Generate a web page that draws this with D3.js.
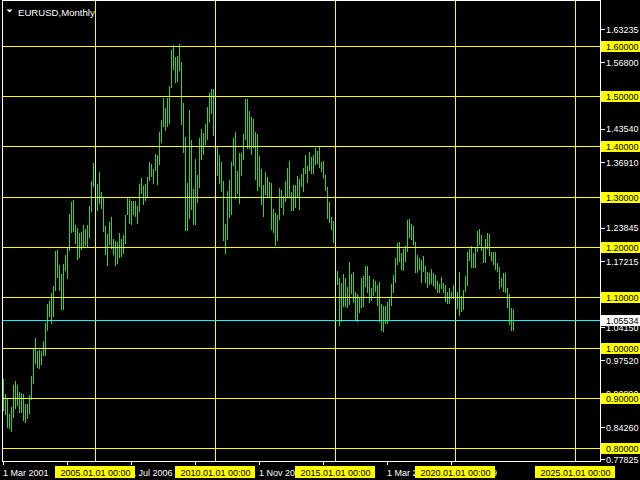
<!DOCTYPE html>
<html><head><meta charset="utf-8">
<script src="https://cdn.jsdelivr.net/npm/d3@7"></script>
<style>html,body{margin:0;padding:0;background:#000;overflow:hidden}svg{display:block}</style>
</head><body>
<svg id="c" width="640" height="480"></svg>
<script>
// ---------- data ----------
const symbolTitle = "EURUSD,Monthly";
const firstMonth = [2001, 3]; // first bar: March 2001, one bar per month
const high = [
  // 2001 (Mar-Dec)
  0.9375,0.9080,0.8990,0.8680,0.8830,0.9250,0.9330,0.9250,0.9115,0.9090,
  // 2002
  0.9075,0.8880,0.8880,0.9055,0.9430,0.9985,1.0190,0.9925,0.9945,0.9935,1.0140,1.0500,
  // 2003
  1.0860,1.0930,1.1080,1.1230,1.1930,1.1935,1.1640,1.1470,1.1670,1.1840,1.2000,1.2650,
  // 2004
  1.2900,1.2930,1.2430,1.2380,1.2280,1.2290,1.2440,1.2350,1.2440,1.2810,1.3320,1.3670,
  // 2005
  1.3590,1.3250,1.3490,1.3100,1.2990,1.2410,1.2260,1.2490,1.2590,1.2160,1.2120,1.2090,
  // 2006
  1.2280,1.2160,1.2230,1.2630,1.2980,1.2950,1.2910,1.2910,1.2910,1.2810,1.3250,1.3370,
  // 2007
  1.3210,1.3250,1.3390,1.3680,1.3650,1.3550,1.3850,1.3830,1.4280,1.4530,1.4970,1.4770,
  // 2008
  1.4970,1.5200,1.5910,1.6020,1.5780,1.5790,1.6040,1.5680,1.4870,1.4190,1.3280,1.4720,
  // 2009
  1.4130,1.3160,1.3740,1.3430,1.4160,1.4340,1.4260,1.4450,1.4790,1.5060,1.5140,1.5140,
  // 2010
  1.4580,1.3980,1.3820,1.3690,1.3310,1.2450,1.3110,1.3330,1.3680,1.4160,1.4280,1.3500,
  // 2011
  1.3860,1.3860,1.4250,1.4940,1.4940,1.4700,1.4580,1.4550,1.4280,1.4250,1.3810,1.3550,
  // 2012
  1.3240,1.3490,1.3390,1.3300,1.3280,1.2750,1.2670,1.2640,1.3170,1.3140,1.3010,1.3310,
  // 2013
  1.3560,1.3710,1.3100,1.3240,1.3240,1.3420,1.3350,1.3450,1.3570,1.3830,1.3610,1.3890,
  // 2014
  1.3790,1.3830,1.3970,1.3910,1.3990,1.3680,1.3700,1.3440,1.3200,1.2890,1.2600,1.2510,
  // 2015
  1.2110,1.1530,1.1390,1.1290,1.1470,1.1380,1.1210,1.1710,1.1460,1.1500,1.1100,1.1060,
  // 2016
  1.0990,1.1380,1.1420,1.1620,1.1620,1.1430,1.1190,1.1370,1.1330,1.1240,1.1300,1.0870,
  // 2017
  1.0830,1.0830,1.0910,1.0960,1.1270,1.1450,1.1780,1.2070,1.2090,1.1880,1.1960,1.2020,
  // 2018
  1.2540,1.2560,1.2450,1.2410,1.2100,1.1850,1.1790,1.1740,1.1820,1.1620,1.1500,1.1490,
  // 2019
  1.1570,1.1490,1.1450,1.1320,1.1260,1.1410,1.1290,1.1250,1.1110,1.1180,1.1100,1.1240,
  // 2020
  1.1240,1.1100,1.1500,1.1020,1.1150,1.1420,1.1910,1.1970,1.2010,1.1880,1.2000,1.2310,
  // 2021
  1.2350,1.2240,1.1990,1.2150,1.2270,1.2250,1.1910,1.1900,1.1910,1.1690,1.1610,1.1380,
  // 2022 (Jan-Jun)
  1.1480,1.1490,1.1190,1.1070,1.0790,1.0770
];
const low = [
  // 2001 (Mar-Dec)
  0.8755,0.8680,0.8420,0.8400,0.8340,0.8615,0.8800,0.8860,0.8720,0.8720,
  // 2002
  0.8560,0.8520,0.8600,0.8700,0.8975,0.9300,0.9690,0.9610,0.9600,0.9670,0.9860,0.9860,
  // 2003
  1.0350,1.0630,1.0500,1.0620,1.1150,1.1410,1.1140,1.0770,1.0760,1.1540,1.1380,1.1950,
  // 2004
  1.2300,1.2310,1.2080,1.1760,1.1800,1.1960,1.2010,1.2040,1.2010,1.2200,1.2720,1.3210,
  // 2005
  1.2930,1.2730,1.2880,1.2770,1.2310,1.1870,1.1640,1.2050,1.1990,1.1870,1.1640,1.1690,
  // 2006
  1.1810,1.1820,1.1880,1.2070,1.2660,1.2480,1.2460,1.2660,1.2620,1.2480,1.2720,1.3070,
  // 2007
  1.2860,1.2930,1.3000,1.3330,1.3410,1.3270,1.3520,1.3260,1.3640,1.4080,1.4410,1.4320,
  // 2008
  1.4400,1.4470,1.5170,1.5530,1.5280,1.5300,1.5520,1.4450,1.3880,1.2330,1.2330,1.2570,
  // 2009
  1.2750,1.2450,1.2460,1.2890,1.3190,1.3750,1.3840,1.4050,1.4150,1.4480,1.4670,1.4220,
  // 2010
  1.3860,1.3440,1.3270,1.3110,1.2140,1.1880,1.2150,1.2590,1.2660,1.3630,1.2970,1.3070,
  // 2011
  1.2870,1.3430,1.3750,1.4140,1.3970,1.3970,1.3840,1.3980,1.3360,1.3140,1.3220,1.2860,
  // 2012
  1.2620,1.3060,1.3000,1.3000,1.2350,1.2290,1.2040,1.2130,1.2560,1.2800,1.2660,1.2920,
  // 2013
  1.3000,1.3020,1.2740,1.2740,1.2790,1.3000,1.2750,1.3210,1.3110,1.3480,1.3300,1.3530,
  // 2014
  1.3480,1.3480,1.3640,1.3670,1.3580,1.3500,1.3370,1.3140,1.2570,1.2500,1.2360,1.2100,
  // 2015
  1.1100,1.1260,1.0460,1.0520,1.0820,1.0820,1.0810,1.0860,1.1080,1.0900,1.0560,1.0520,
  // 2016
  1.0710,1.0810,1.0820,1.1220,1.1100,1.0910,1.0950,1.1040,1.1120,1.0850,1.0520,1.0350,
  // 2017
  1.0340,1.0490,1.0490,1.0570,1.0840,1.1110,1.1310,1.1660,1.1720,1.1570,1.1550,1.1720,
  // 2018
  1.1920,1.2200,1.2150,1.2060,1.1510,1.1510,1.1570,1.1300,1.1520,1.1300,1.1210,1.1270,
  // 2019
  1.1290,1.1240,1.1180,1.1110,1.1110,1.1180,1.1100,1.0930,1.0880,1.0880,1.0980,1.0980,
  // 2020
  1.0990,1.0780,1.0640,1.0730,1.0770,1.1120,1.1250,1.1750,1.1610,1.1610,1.1600,1.1920,
  // 2021
  1.2050,1.1950,1.1700,1.1700,1.1990,1.1850,1.1750,1.1660,1.1560,1.1520,1.1190,1.1220,
  // 2022 (Jan-Jun)
  1.1120,1.1100,1.0800,1.0470,1.0350,1.0360
];
const levelPrices = [1.6, 1.5, 1.4, 1.3, 1.2, 1.1, 1.0, 0.9, 0.8];
const priceTicks = [1.63235, 1.56800, 1.43540, 1.36910, 1.23845, 1.17215, 1.04150, 0.97520, 0.90890, 0.84260, 0.77825];
const currentPrice = 1.05534;
const gridYears = [2005, 2010, 2015, 2020, 2025];
const gridLabels = ["2005.01.01 00:00", "2010.01.01 00:00", "2015.01.01 00:00", "2020.01.01 00:00", "2025.01.01 00:00"];
const timeTickMonths = [[2001,3],[2003,11],[2006,7],[2009,3],[2011,11],[2014,7],[2017,3],[2019,11]];
const timeTickLabels = ["1 Mar 2001","1 Nov 2003","1 Jul 2006","1 Mar 2009","1 Nov 2011","1 Jul 2014","1 Mar 2017","1 Nov 2019"];

// ---------- layout ----------
const FONT = "'Liberation Sans', Arial, sans-serif";
const plotLeft = 2, plotRight = 600, plotTop = 0, plotBottom = 461;
const monthIndex = (y, m) => (y - 2005) * 12 + (m - 1);
const x = d3.scaleLinear().domain([0, 240]).range([95, 575]);       // month index -> pixel column
const y = d3.scaleLinear().domain([0.9, 1.5]).range([398, 96]);     // price -> pixel row
const py = p => Math.round(y(p)) + 0.5;

const svg = d3.select("#c");
svg.append("rect").attr("width", 640).attr("height", 480).attr("fill", "#000");

// bars (high-low lines)
const first = monthIndex(firstMonth[0], firstMonth[1]);
const bars = high.map((h, i) => ({ m: first + i, h, l: low[i] }));
svg.append("g").attr("shape-rendering", "crispEdges")
  .selectAll("rect").data(bars).join("rect")
  .attr("x", d => Math.round(x(d.m)))
  .attr("width", 1)
  .attr("y", d => Math.round(y(d.h)))
  .attr("height", d => Math.max(1, Math.round(y(d.l)) - Math.round(y(d.h)) + 1))
  .attr("fill", "#2fd62f");

// level lines (yellow)
const grid = svg.append("g").attr("shape-rendering", "crispEdges");
grid.selectAll("line.h").data(levelPrices).join("line").attr("class", "h")
  .attr("x1", plotLeft).attr("x2", plotRight)
  .attr("y1", d => py(d)).attr("y2", d => py(d))
  .attr("stroke", "#ffff00").attr("stroke-width", 1);
grid.selectAll("line.v").data(gridYears).join("line").attr("class", "v")
  .attr("x1", d => Math.round(x(monthIndex(d, 1))) + 0.5).attr("x2", d => Math.round(x(monthIndex(d, 1))) + 0.5)
  .attr("y1", plotTop).attr("y2", plotBottom)
  .attr("stroke", "#ffff00").attr("stroke-width", 1);
// current price line (cyan)
grid.append("line").attr("x1", plotLeft).attr("x2", plotRight)
  .attr("y1", py(currentPrice)).attr("y2", py(currentPrice))
  .attr("stroke", "#00ffff").attr("stroke-width", 1);

// frame
const frame = svg.append("g").attr("shape-rendering", "crispEdges").attr("stroke", "#fff");
frame.append("line").attr("x1", plotLeft).attr("x2", plotRight + 1).attr("y1", 0.5).attr("y2", 0.5);
frame.append("line").attr("x1", plotLeft + 0.5).attr("x2", plotLeft + 0.5).attr("y1", 0).attr("y2", plotBottom + 1);
frame.append("line").attr("x1", plotRight + 0.5).attr("x2", plotRight + 0.5).attr("y1", 0).attr("y2", plotBottom + 1);
frame.append("line").attr("x1", plotLeft).attr("x2", plotRight + 1).attr("y1", plotBottom + 0.5).attr("y2", plotBottom + 0.5);

// right price axis (white labels)
const yAxis = d3.axisRight(y).tickValues(priceTicks).tickSize(4).tickPadding(1)
  .tickFormat(d3.format(".5f"));
const ya = svg.append("g").attr("transform", `translate(${plotRight + 1},0)`).call(yAxis);
ya.select(".domain").remove();
ya.selectAll(".tick line").attr("stroke", "#fff").attr("shape-rendering", "crispEdges");
ya.selectAll(".tick text").attr("fill", "#fff").attr("font-family", FONT).attr("font-size", 9)
  .attr("dy", null).attr("y", 3.3);

// yellow level labels
const lv = svg.append("g");
lv.selectAll("rect").data(levelPrices).join("rect")
  .attr("x", plotRight + 1).attr("width", 39)
  .attr("y", d => Math.round(y(d)) - 5).attr("height", 11)
  .attr("fill", "#ffff00").attr("shape-rendering", "crispEdges");
lv.selectAll("text").data(levelPrices).join("text")
  .attr("x", 606).attr("y", d => Math.round(y(d)) + 3.8)
  .attr("fill", "#000").attr("font-family", FONT).attr("font-size", 9)
  .text(d => d3.format(".5f")(d));
// current price label
lv.append("rect").attr("x", plotRight + 1).attr("width", 39)
  .attr("y", Math.round(y(currentPrice)) - 5).attr("height", 11)
  .attr("fill", "#ffffff").attr("shape-rendering", "crispEdges");
lv.append("text").attr("x", 606).attr("y", Math.round(y(currentPrice)) + 3.8)
  .attr("fill", "#000").attr("font-family", FONT).attr("font-size", 9)
  .text(d3.format(".5f")(currentPrice));

// bottom time axis (white labels)
const xAxis = d3.axisBottom(x).tickValues(timeTickMonths.map(d => monthIndex(d[0], d[1])))
  .tickSize(4).tickFormat((d, i) => timeTickLabels[i]);
const xa = svg.append("g").attr("transform", `translate(0,${plotBottom})`).call(xAxis);
xa.select(".domain").remove();
xa.selectAll(".tick line").attr("stroke", "#fff").attr("shape-rendering", "crispEdges");
xa.selectAll(".tick text").attr("fill", "#fff").attr("font-family", FONT).attr("font-size", 9)
  .attr("text-anchor", "start").attr("x", -0.5).attr("dy", null).attr("y", 15);

// yellow date labels
const dl = svg.append("g");
dl.selectAll("rect").data(gridYears).join("rect")
  .attr("x", d => Math.round(x(monthIndex(d, 1))) - 40).attr("width", 80)
  .attr("y", 466).attr("height", 12)
  .attr("fill", "#ffff00").attr("shape-rendering", "crispEdges");
dl.selectAll("text").data(gridYears).join("text")
  .attr("x", d => Math.round(x(monthIndex(d, 1))) + 0.5).attr("y", 476)
  .attr("text-anchor", "middle")
  .attr("fill", "#000").attr("font-family", FONT).attr("font-size", 9)
  .text((d, i) => gridLabels[i]);

// title
svg.append("path").attr("d", "M6.5,9.5 L12.5,9.5 L9.5,12.5 Z").attr("fill", "#fff");
svg.append("text").attr("x", 18).attr("y", 15.5)
  .attr("fill", "#fff").attr("font-family", FONT).attr("font-size", 9.6)
  .text(symbolTitle);
</script>
</body></html>
